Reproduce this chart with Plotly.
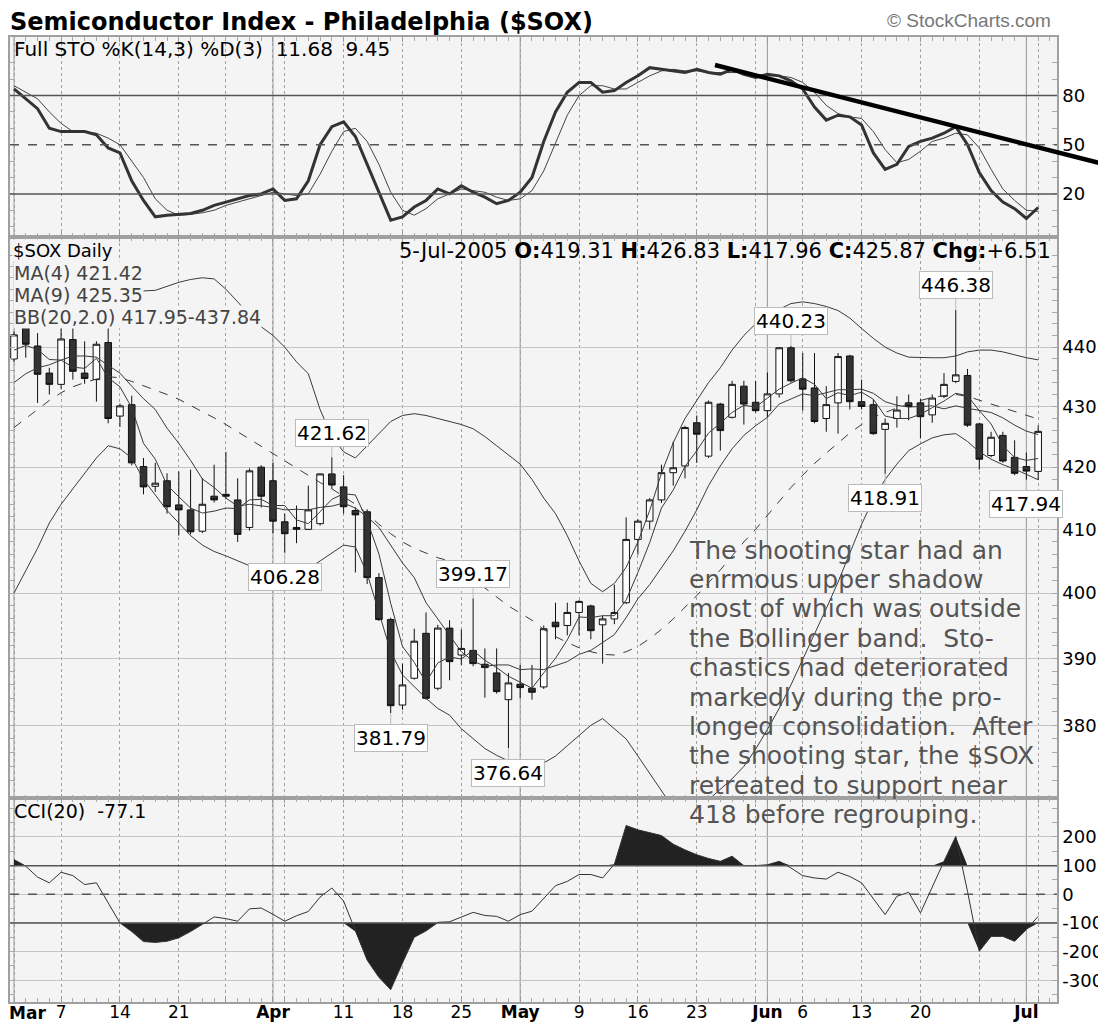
import numpy as np
import pandas as pd
import plotly.graph_objects as go
from plotly.subplots import make_subplots

# trading days Mar 1 - Jul 5 2005 (Good Friday, Memorial Day, Jul 4 closed)
holidays = ["2005-03-25", "2005-05-30", "2005-07-04"]
dates = [d.strftime("%Y-%m-%d") for d in pd.bdate_range("2005-03-01", "2005-07-05")
         if d.strftime("%Y-%m-%d") not in holidays]

opens = [438.0, 443.4, 440.2, 435.6, 433.7, 441.3, 435.6, 434.5, 440.8, 428.4,
         430.3, 420.1, 416.9, 417.8, 413.9, 413.1, 409.7, 415.3, 415.6, 414.7,
         410.3, 420.0, 417.8, 411.2, 410.3, 410.0, 410.9, 418.9, 416.8, 413.0,
         412.8, 402.4, 395.9, 383.0, 387.0, 393.8, 385.5, 394.6, 390.5, 391.2,
         389.1, 387.8, 383.8, 386.1, 385.5, 385.7, 395.5, 395.0, 397.0, 398.0,
         395.1, 396.0, 398.5, 408.4, 411.3, 414.7, 419.1, 420.2, 427.3, 421.8,
         430.4, 428.2, 433.4, 430.7, 429.3, 432.1, 439.9, 434.6, 433.1, 428.0,
         430.6, 438.5, 430.8, 430.3, 426.2, 428.0, 430.6, 430.6, 428.6, 431.7,
         434.2, 435.2, 427.1, 421.9, 425.2, 421.6, 420.1, 419.31]
highs = [442.7, 443.8, 442.4, 436.5, 443.4, 443.4, 441.0, 441.0, 443.3, 430.5,
         431.8, 421.5, 420.7, 419.0, 419.3, 419.6, 418.2, 420.4, 422.5, 418.2,
         419.8, 420.3, 420.7, 412.5, 413.8, 417.0, 419.0, 421.62, 418.7, 413.5,
         413.2, 403.1, 396.2, 389.2, 394.5, 397.0, 395.1, 395.8, 394.4, 399.17,
         391.5, 391.5, 387.8, 389.0, 389.0, 395.0, 398.5, 398.5, 398.9, 398.2,
         396.5, 401.3, 411.9, 411.6, 415.0, 420.4, 424.2, 426.8, 428.5, 431.0,
         430.6, 434.3, 434.3, 434.3, 435.7, 440.0, 440.23, 439.0, 439.0, 433.4,
         439.0, 438.7, 434.5, 431.2, 428.0, 431.7, 432.0, 431.3, 432.0, 435.6,
         446.38, 436.3, 427.3, 425.8, 425.8, 424.4, 422.4, 426.83]
lows = [437.5, 438.2, 430.6, 432.0, 433.0, 434.5, 433.8, 430.8, 427.2, 426.6,
        420.3, 415.6, 416.0, 412.5, 409.0, 409.2, 409.4, 414.3, 414.8, 408.0,
        409.8, 413.5, 409.4, 406.28, 407.8, 409.9, 410.6, 416.5, 412.5, 403.2,
        401.4, 395.7, 381.79, 382.3, 386.8, 383.8, 385.2, 386.7, 389.0, 388.8,
        384.1, 384.7, 376.64, 384.0, 383.8, 385.4, 392.9, 393.5, 393.5, 392.9,
        389.2, 395.2, 398.3, 406.0, 410.0, 414.2, 417.0, 418.2, 420.7, 421.5,
        422.7, 428.0, 427.0, 429.0, 428.2, 431.5, 434.0, 429.3, 427.2, 425.8,
        425.5, 429.5, 429.5, 425.3, 418.91, 426.5, 427.7, 424.7, 427.3, 431.4,
        433.9, 426.6, 419.6, 421.6, 420.7, 418.7, 417.94, 417.96]
closes = [442.1, 440.5, 435.4, 433.7, 441.4, 435.9, 434.7, 440.5, 428.0, 430.1,
          420.7, 416.8, 417.4, 413.6, 413.1, 409.6, 414.0, 414.7, 415.3, 409.2,
          419.4, 415.3, 411.3, 409.3, 410.0, 413.1, 418.9, 417.1, 413.6, 412.3,
          402.4, 395.9, 382.9, 386.0, 392.6, 384.0, 394.6, 389.5, 391.5, 389.2,
          388.6, 385.0, 386.3, 385.6, 384.9, 394.5, 394.8, 397.0, 398.7, 394.2,
          396.0, 397.0, 408.4, 411.3, 414.7, 419.1, 419.9, 426.5, 425.4, 430.7,
          426.0, 433.7, 430.4, 429.3, 432.1, 439.9, 434.3, 432.9, 427.5, 430.3,
          438.4, 430.8, 430.0, 425.5, 427.2, 429.4, 430.0, 428.3, 431.4, 433.7,
          435.3, 426.9, 421.3, 424.9, 421.0, 419.0, 419.36, 425.87]

ma4 = [439.5, 440.3, 439.6, 437.9, 437.8, 436.6, 436.4, 438.1, 434.8, 433.3,
       429.8, 423.9, 421.3, 417.1, 415.2, 413.4, 412.6, 412.9, 413.4, 413.3,
       414.7, 414.8, 413.8, 413.8, 411.5, 410.9, 412.8, 414.8, 415.7, 415.5,
       411.4, 406.1, 398.4, 391.8, 389.4, 386.4, 389.3, 390.2, 389.9, 391.2,
       389.7, 388.6, 387.3, 386.4, 385.5, 387.8, 390.0, 392.8, 396.3, 396.2,
       396.5, 396.5, 398.9, 403.2, 407.9, 413.4, 416.3, 420.1, 422.7, 425.6,
       427.2, 429.0, 430.2, 429.9, 431.4, 432.9, 433.9, 434.8, 433.7, 431.3,
       432.3, 431.8, 432.4, 431.2, 428.4, 428.0, 428.0, 428.7, 429.8, 430.9,
       432.2, 431.8, 429.3, 427.1, 423.5, 421.6, 421.1, 421.42]
ma9 = [434.0, 435.5, 436.5, 437.0, 437.8, 438.5, 438.5, 438.3, 436.9, 435.6,
       433.4, 431.3, 429.5, 426.4, 423.9, 421.1, 418.1, 416.7, 415.0, 413.7,
       414.0, 413.8, 413.5, 413.1, 413.2, 413.1, 413.5, 413.7, 414.2, 413.4,
       412.0, 410.3, 407.4, 404.7, 402.4, 398.5, 396.0, 393.4, 391.0, 389.6,
       388.8, 389.0, 389.0, 388.3, 388.4, 388.3, 388.9, 389.5, 390.6, 391.2,
       392.4, 393.6, 396.2, 399.1, 401.3, 404.0, 406.6, 409.7, 413.1, 417.0,
       420.2, 423.0, 425.2, 426.8, 428.2, 430.4, 431.3, 432.1, 431.8, 432.3,
       432.8, 432.8, 432.9, 432.2, 430.8, 430.2, 429.9, 430.0, 430.1, 429.6,
       430.1, 429.7, 429.3, 429.0, 428.1, 426.9, 425.9, 425.35]
bb_upper = [453.0, 452.0, 451.0, 450.0, 449.0, 449.0, 449.0, 449.0, 449.2, 449.4,
            449.6, 449.7, 449.8, 450.5, 451.2, 451.7, 452.0, 451.8, 450.0, 447.8,
            445.5, 443.5, 442.0, 440.0, 437.5, 435.5, 429.5, 425.0, 422.5, 421.5,
            423.5, 425.5, 427.5, 428.5, 428.8, 428.5, 428.0, 427.5, 427.0, 426.3,
            425.0, 423.5, 422.0, 420.5, 418.0, 415.0, 412.5, 409.0, 405.0, 401.5,
            400.2, 401.5, 404.0, 408.0, 413.0, 419.0, 424.0, 428.0, 431.0, 434.0,
            436.5, 439.5, 442.0, 444.0, 445.0, 446.5, 447.5, 447.8, 447.5, 447.0,
            446.3, 445.0, 443.2, 441.5, 440.0, 439.0, 438.3, 438.2, 438.2, 438.2,
            438.5, 439.2, 439.5, 439.5, 439.2, 438.7, 438.2, 437.84]
bb_mid = [426.5, 428.0, 429.5, 431.0, 432.3, 433.3, 434.0, 434.6, 435.0, 434.8,
          434.2, 433.5, 432.7, 432.0, 431.2, 430.2, 429.2, 428.1, 427.0, 425.8,
          424.6, 423.4, 422.2, 421.0, 419.8, 418.6, 417.5, 416.5, 415.3, 414.0,
          412.5, 410.8, 409.3, 408.0, 407.0, 406.2, 405.5, 405.0, 403.6, 402.2,
          400.8, 399.4, 398.0, 396.9, 395.8, 394.4, 393.3, 392.4, 391.6, 391.0,
          390.6, 390.5, 391.0, 391.8, 393.0, 394.4, 396.0, 397.8, 399.6, 401.6,
          403.6, 405.8, 408.0, 410.0, 412.2, 414.5, 416.7, 418.7, 420.6, 422.3,
          424.0, 425.6, 427.0, 428.2, 429.0, 429.8, 430.5, 431.0, 431.5, 431.8,
          432.0, 431.7, 431.0, 430.4, 429.8, 429.2, 428.5, 427.9]
bb_lower = [400.0, 403.5, 407.0, 411.0, 414.0, 416.5, 419.0, 421.5, 423.5, 423.0,
            421.5, 418.0, 415.5, 413.0, 411.0, 409.0, 407.5, 406.5, 405.8, 405.0,
            404.2, 403.5, 403.0, 402.8, 403.0, 403.8, 405.0, 406.3, 407.5, 407.2,
            403.0, 397.0, 391.0, 387.5, 385.8, 384.0, 382.5, 381.5, 379.5, 378.0,
            376.6, 375.6, 374.8, 374.3, 374.0, 374.5, 375.5, 377.0, 378.5, 380.0,
            381.0, 379.5, 378.0, 375.5, 373.0, 370.5, 368.0, 367.5, 368.2, 369.2,
            370.7, 372.2, 374.0, 376.5, 379.4, 382.5, 386.0, 389.8, 393.7, 397.6,
            401.7, 406.2, 410.8, 414.8, 418.0, 420.5, 422.7, 423.8, 424.8, 425.3,
            425.5, 424.2, 422.5, 421.3, 420.4, 419.7, 418.8, 417.95]

sto_k = [84, 78, 72, 60, 58, 58, 58, 56, 48, 45,
         28, 16, 6, 7, 7.5, 8, 10, 13, 15, 17,
         19, 20, 23, 16, 17, 28, 50, 61, 64, 55,
         38, 20, 4, 6, 12, 16, 23, 20, 25, 21,
         18, 14, 16, 21, 30, 52, 70, 82, 88, 88,
         82, 83, 88, 92, 97, 96, 95, 94, 96, 94,
         93, 96, 93, 91, 93, 92, 89, 84, 73, 65,
         68, 67, 62, 45, 35, 38, 49, 52, 54, 57,
         61, 50, 33, 22, 15, 11, 5, 11.68]
sto_d = [86, 82, 78, 70, 63, 58, 58, 57, 54, 50,
         40, 30, 17, 10, 7, 7.5, 8.5, 10, 13, 15,
         17, 19, 21, 20, 19, 20, 32, 46, 58, 60,
         52, 38, 21, 10, 7, 11, 17, 20, 23, 22,
         21, 18, 16, 17, 22, 34, 51, 68, 80, 86,
         86, 84, 84, 88, 92, 95, 96, 95, 95, 94,
         94, 94, 94, 93, 92, 92, 91, 88, 82, 74,
         69, 67, 66, 58, 47, 39, 41, 46, 52, 54,
         57, 56, 48, 35, 23, 16, 10, 9.45]

cci = [121, 98, 60, 40, 77, 65, 34, 40, -30, -100,
       -130, -165, -168, -164, -152, -130, -105, -79, -85, -94,
       -51, -48, -70, -94, -75, -60, -10, 22, -24, -130,
       -230, -290, -333, -240, -150, -128, -98, -96, -80, -63,
       -74, -77, -94, -71, -59, -15, 30, 45, 69, 69,
       57, 105, 240, 225, 214, 205, 175, 155, 138, 125,
       115, 133, 100, 100, 103, 115, 92, 65, 57, 53,
       77, 62, 40, -15, -71, -7, 7, -65, 28, 115,
       202, 10, -199, -147, -147, -164, -123, -77.1]

# x-axis ticks (first label "Mar" is placed as a separate text so it stays visible)
tick_dates = ["2005-03-01", "2005-03-07", "2005-03-14", "2005-03-21", "2005-03-28",
              "2005-04-01", "2005-04-04", "2005-04-11", "2005-04-18", "2005-04-25",
              "2005-05-02", "2005-05-09", "2005-05-16", "2005-05-23", "2005-05-31",
              "2005-06-01", "2005-06-06", "2005-06-13", "2005-06-20", "2005-06-27",
              "2005-07-01", "2005-07-05"]
tick_text = ["", "7", "14", "21", "", "<b>Apr</b>", "", "11", "18", "25",
             "<b>May</b>", "9", "16", "23", "", "<b>Jun</b>", "6", "13", "20", "",
             "<b>Jul</b>", ""]
month_dates = ["2005-03-01", "2005-04-01", "2005-05-02", "2005-06-01", "2005-07-01"]

sto_ticks = [20, 50, 80]
price_ticks = [380, 390, 400, 410, 420, 430, 440]
cci_ticks = [200, 100, 0, -100, -200, -300]
cci_labels = ["200", "100", "0", "-100", "-200", "-300"]

# callout labels on extreme highs/lows: (date, value, pixel offset)
callouts = [("2005-04-08", 421.62, -24), ("2005-04-04", 406.28, 24),
            ("2005-04-26", 399.17, -24), ("2005-04-15", 381.79, 25),
            ("2005-04-29", 376.64, 25), ("2005-06-03", 440.23, -25),
            ("2005-06-23", 446.38, -25), ("2005-06-15", 418.91, 24),
            ("2005-07-01", 417.94, 24)]

note_lines = ["The shooting star had an", "enrmous upper shadow",
              "most of which was outside", "the Bollinger band.  Sto-",
              "chastics had deteriorated", "markedly during the pro-",
              "longed consolidation.  After", "the shooting star, the $SOX",
              "retreated to support near", "418 before regrouping."]

x = list(range(len(dates)))
pos = {d: i for i, d in enumerate(dates)}

# page body adds an 8px margin, so the figure is laid out 8px smaller
OFF = 8
W, H = 1106 - OFF, 1026 - OFF
PL, PR, PT, PB = 10, 1057, 37, 1002   # plot area in screen pixels
BG = "#f4f4f4"


def paper(px, py):
    return (px - PL) / (PR - PL), (PB - py) / (PB - PT)


fig = make_subplots(rows=3, cols=1, shared_xaxes=True, vertical_spacing=0)

# stochastics
fig.add_trace(go.Scatter(x=x, y=sto_d, mode="lines", line=dict(color="#444", width=1)), row=1, col=1)
fig.add_trace(go.Scatter(x=x, y=sto_k, mode="lines", line=dict(color="#333", width=3)), row=1, col=1)

# price panel
fig.add_trace(go.Candlestick(x=x, open=opens, high=highs, low=lows, close=closes,
                             increasing=dict(line=dict(color="#111", width=1), fillcolor="white"),
                             decreasing=dict(line=dict(color="#111", width=1), fillcolor="#333"),
                             whiskerwidth=0), row=2, col=1)
for ys, dash in [(bb_upper, "solid"), (bb_mid, "dash"), (bb_lower, "solid"),
                 (ma4, "solid"), (ma9, "solid")]:
    fig.add_trace(go.Scatter(x=x, y=ys, mode="lines",
                             line=dict(color="#3a3a3a", width=1, dash=dash)), row=2, col=1)

# CCI with filled extremes
cci_arr = np.array(cci, dtype=float)
fig.add_trace(go.Scatter(x=x, y=[100] * len(x), mode="lines", line=dict(width=0)), row=3, col=1)
fig.add_trace(go.Scatter(x=x, y=np.maximum(cci_arr, 100), mode="lines", line=dict(width=0),
                         fill="tonexty", fillcolor="#222"), row=3, col=1)
fig.add_trace(go.Scatter(x=x, y=[-100] * len(x), mode="lines", line=dict(width=0)), row=3, col=1)
fig.add_trace(go.Scatter(x=x, y=np.minimum(cci_arr, -100), mode="lines", line=dict(width=0),
                         fill="tonexty", fillcolor="#222"), row=3, col=1)
fig.add_trace(go.Scatter(x=x, y=cci, mode="lines", line=dict(color="#333", width=1)), row=3, col=1)

for yv, dash in [(80, "solid"), (50, "dash"), (20, "solid")]:
    fig.add_hline(y=yv, line=dict(color="#555", width=1.5, dash=dash), row=1, col=1)
for yv, dash in [(100, "solid"), (0, "dash"), (-100, "solid")]:
    fig.add_hline(y=yv, line=dict(color="#555", width=1.5, dash=dash), row=3, col=1)

# month separators
for d in month_dates:
    fig.add_shape(type="line", xref="x3", yref="paper", x0=pos[d], x1=pos[d], y0=0, y1=1,
                  line=dict(color="#a8a8a8", width=1.2), layer="below")

tick_font = dict(family="DejaVu Sans", size=18, color="black")
axis_common = dict(showline=True, linecolor="#a0a0a0", linewidth=1.5, mirror="ticks",
                   ticks="inside", tickcolor="#999", zeroline=False, automargin=False)

fig.update_xaxes(range=[-0.34, 88.6], tickmode="array",
                 tickvals=[pos[d] for d in tick_dates], ticktext=tick_text,
                 showgrid=True, gridcolor="#a0a0a0", griddash="dot", gridwidth=1,
                 ticklen=5, minor=dict(dtick=1, tick0=0, ticks="inside", ticklen=4,
                                        tickcolor="#aaa", showgrid=False),
                 ticklabeloverflow="allow", rangeslider_visible=False,
                 tickfont=dict(family="DejaVu Sans", size=17, color="black"),
                 ticklabelstandoff=-6, **axis_common)

fig.update_yaxes(side="right", tickfont=tick_font, ticklabeloverflow="allow", **axis_common)
fig.update_layout(
    yaxis=dict(domain=[(PB - 237) / (PB - PT), 1], range=[-6.3, 115.7],
               tickvals=sto_ticks, showgrid=False, ticklen=0,
               minor=dict(tickvals=list(range(0, 101, 10)), ticks="inside", ticklen=5,
                          tickcolor="#aaa")),
    yaxis2=dict(domain=[(PB - 798.3) / (PB - PT), (PB - 237) / (PB - PT)], type="log",
                range=[np.log10(369.4), np.log10(459.2)],
                tickvals=price_ticks, showgrid=True, gridcolor="#c4c4c4", ticklen=0,
                minor=dict(tickvals=list(range(372, 458, 2)), ticks="inside", ticklen=5,
                           tickcolor="#aaa")),
    yaxis3=dict(domain=[0, (PB - 798.3) / (PB - PT)], range=[-376, 335],
                tickvals=cci_ticks, ticktext=cci_labels, showgrid=True,
                gridcolor="#c4c4c4", ticklen=0,
                minor=dict(tickvals=list(range(-350, 301, 50)), ticks="inside", ticklen=5,
                           tickcolor="#aaa")),
    boxgap=0.2,
)

anns = []


def text_at(px, py, text, size=18, color="black", anchor="left", family="DejaVu Sans",
            bg=None):
    xp, yp = paper(px, py)
    anns.append(dict(xref="paper", yref="paper", x=xp, y=yp, text=text, showarrow=False,
                     xanchor=anchor, yanchor="middle", bgcolor=bg, borderpad=0,
                     font=dict(family=family, size=size, color=color)))


text_at(9, 22, "<b>Semiconductor Index - Philadelphia ($SOX)</b>", size=24)
text_at(1052, 20, "© StockCharts.com", size=19, color="#777", anchor="right",
        family="Liberation Sans")
text_at(13, 49, "Full STO %K(14,3) %D(3)\u00a0 11.68\u00a0 9.45", size=20)
text_at(12, 251, "$SOX Daily", size=18, bg=BG)
text_at(13, 273, "MA(4) 421.42", size=19, color="#444", bg=BG)
text_at(13, 295, "MA(9) 425.35", size=19, color="#444", bg=BG)
text_at(13, 317, "BB(20,2.0) 417.95-437.84", size=19, color="#444", bg=BG)
text_at(1052, 251, "5-Jul-2005 <b>O:</b>419.31 <b>H:</b>426.83 <b>L:</b>417.96 "
        "<b>C:</b>425.87 <b>Chg:</b>+6.51", size=21, anchor="right")
text_at(13, 811, "CCI(20)\u00a0 -77.1", size=19)
text_at(8, 1013, "<b>Mar</b>", size=17)

for k, line in enumerate(note_lines):
    text_at(688, 550 + k * 29.4, line, size=25, color="#555")

for d, v, off in callouts:
    anns.append(dict(xref="x2", yref="y2", x=pos[d], y=np.log10(v), text=f"{v:.2f}",
                     showarrow=True, arrowhead=0, arrowcolor="#bbb", arrowwidth=1,
                     ax=0, ay=off, bgcolor="white", bordercolor="#bbb", borderwidth=1,
                     borderpad=1, font=dict(family="DejaVu Sans", size=20, color="black")))

fig.update_layout(annotations=anns)

# circle around the shooting star
cx = pos["2005-06-23"]
fig.add_shape(type="circle", xref="x2", yref="y2", x0=cx - 3.68, x1=cx + 3.68,
              y0=np.log10(432.6), y1=np.log10(447.0), line=dict(color="#222", width=2))

# hand-drawn trendline on the stochastics
x0p, y0p = paper(715, 65)
x1p, y1p = paper(1106, 164.7)
fig.add_shape(type="line", xref="paper", yref="paper", x0=x0p, y0=y0p, x1=x1p, y1=y1p,
              line=dict(color="black", width=4.5))

fig.update_layout(width=W, height=H, showlegend=False, paper_bgcolor="white",
                  plot_bgcolor=BG, hovermode=False,
                  margin=dict(l=PL - OFF, r=1106 - PR, t=PT - OFF, b=1026 - PB,
                              autoexpand=False))

fig.write_html("out.html")
